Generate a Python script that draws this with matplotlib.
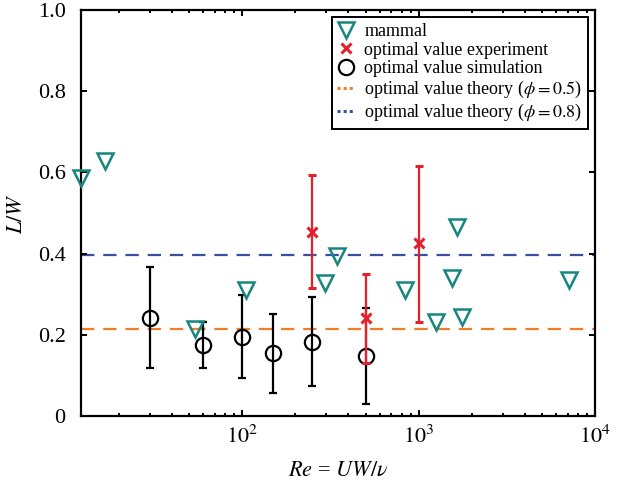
import numpy as np
import matplotlib
matplotlib.use("Agg")
import matplotlib.pyplot as plt
from matplotlib.lines import Line2D
from matplotlib.ticker import FixedLocator, FixedFormatter, LogLocator, NullFormatter

plt.rcParams["font.family"] = "serif"
plt.rcParams["font.serif"] = ["Liberation Serif", "DejaVu Serif"]
plt.rcParams["mathtext.fontset"] = "stix"

# mammals
mammal_re = [12.2, 16.6, 54, 105, 294, 343, 834, 1259, 1549, 1766, 1644, 7130]
mammal_lw = [0.586, 0.629, 0.215, 0.311, 0.327, 0.395, 0.310, 0.231, 0.341, 0.244, 0.466, 0.334]

# optimal value, simulation (mean, lower end, upper end)
sim_re = [30, 60, 100, 150, 250, 500]
sim_lw = [0.241, 0.175, 0.195, 0.154, 0.183, 0.147]
sim_low = [0.117, 0.117, 0.093, 0.057, 0.073, 0.030]
sim_high = [0.367, 0.232, 0.299, 0.251, 0.292, 0.266]

# optimal value, experiment
exp_re = [250, 500, 1000]
exp_lw = [0.453, 0.241, 0.425]
exp_low = [0.315, 0.130, 0.232]
exp_high = [0.594, 0.351, 0.617]

# theory
theory_phi = [0.5, 0.8]
theory_lw = [0.214, 0.396]

teal = "#15877e"
red = "#e3202b"
theory_colors = ["#f07e26", "#3a4f9f"]

fig = plt.figure(figsize=(6.18, 4.87), dpi=100)
ax = fig.add_axes([0.131, 0.146, 0.832, 0.833])

for lw_val, c in zip(theory_lw, theory_colors):
    ax.axhline(lw_val, color=c, lw=1.6, dashes=(6, 4), zorder=1)

sim_err = [np.array(sim_lw) - np.array(sim_low), np.array(sim_high) - np.array(sim_lw)]
ax.errorbar(sim_re, sim_lw, yerr=sim_err, fmt="o", ms=11, mfc="none", mec="black",
            mew=1.6, ecolor="black", elinewidth=1.6, capsize=3, capthick=1.6, zorder=2)

exp_err = [np.array(exp_lw) - np.array(exp_low), np.array(exp_high) - np.array(exp_lw)]
ax.errorbar(exp_re, exp_lw, yerr=exp_err, fmt="x", ms=7, mec=red, mew=2.2,
            ecolor=red, elinewidth=1.6, capsize=3, capthick=1.6, zorder=3)

ax.plot(mammal_re, mammal_lw, "v", ms=11.5, mfc="none", mec=teal, mew=1.8,
        ls="none", zorder=4, clip_on=False)

ax.set_xscale("log")
ax.set_xlim(12.2, 1e4)
ax.set_ylim(0, 1.0)
ax.yaxis.set_major_locator(FixedLocator([0, 0.2, 0.4, 0.6, 0.8, 1.0]))
ax.yaxis.set_major_formatter(FixedFormatter(["0", "0.2", "0.4", "0.6", "0.8", "1.0"]))
ax.xaxis.set_major_locator(FixedLocator([1e2, 1e3, 1e4]))
ax.xaxis.set_major_formatter(FixedFormatter(["$10^2$", "$10^3$", "$10^4$"]))
ax.xaxis.set_minor_locator(LogLocator(base=10, subs=np.arange(2, 10), numticks=20))
ax.xaxis.set_minor_formatter(NullFormatter())

for s in ax.spines.values():
    s.set_linewidth(1.6)
ax.tick_params(which="both", direction="in", top=True, right=True, width=1.4)
ax.tick_params(which="major", length=4.5, labelsize=16)
ax.tick_params(axis="y", pad=11)
ax.tick_params(axis="x", pad=7)
ax.tick_params(which="minor", length=2.5)

ax.set_xlabel("$Re$ = $UW/\\nu$", fontsize=16, labelpad=10)
ax.set_ylabel("$L/W$", fontsize=16, labelpad=8)

handles = [
    Line2D([], [], marker="v", ms=11.5, mfc="none", mec=teal, mew=1.8, ls="none"),
    Line2D([], [], marker="x", ms=7, mec=red, mew=2.2, ls="none"),
    Line2D([], [], marker="o", ms=11, mfc="none", mec="black", mew=1.6, ls="none"),
]
labels = ["mammal", "optimal value experiment", "optimal value simulation"]
for phi, c in zip(theory_phi, theory_colors):
    handles.append(Line2D([], [], color=c, lw=2.2, ls=(0, (1, 1))))
    labels.append("optimal value theory ($\\phi = %.1f$)" % phi)

leg = ax.legend(handles, labels, loc="upper right", fontsize=13, frameon=True,
                fancybox=False, edgecolor="black", framealpha=1, borderpad=0.3,
                labelspacing=0.1, handlelength=1.0, handletextpad=0.5,
                borderaxespad=0.4)
leg.get_frame().set_linewidth(1.4)

fig.savefig("out.png", dpi=100)
